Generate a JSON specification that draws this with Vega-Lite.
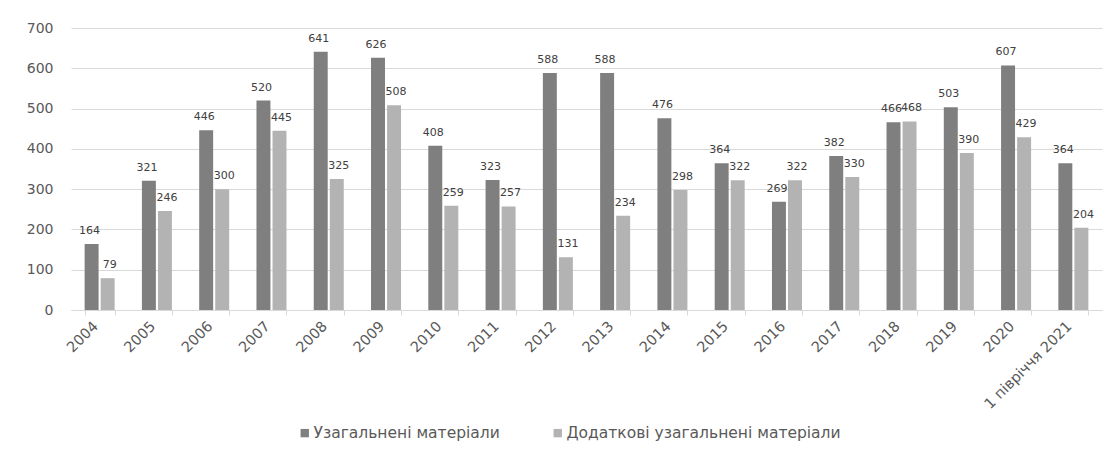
{
  "$schema": "https://vega.github.io/schema/vega-lite/v6.json",
  "width": 1031,
  "height": 282,
  "autosize": {"type": "none"},
  "padding": {"left": 71, "top": 28, "right": 18, "bottom": 147},
  "background": "white",
  "config": {"view": {"stroke": null}, "font": "DejaVu Sans"},
  "data": {
    "values": [
      {"year": "2004", "series": "Узагальнені матеріали", "value": 164},
      {"year": "2004", "series": "Додаткові узагальнені матеріали", "value": 79},
      {"year": "2005", "series": "Узагальнені матеріали", "value": 321},
      {"year": "2005", "series": "Додаткові узагальнені матеріали", "value": 246},
      {"year": "2006", "series": "Узагальнені матеріали", "value": 446},
      {"year": "2006", "series": "Додаткові узагальнені матеріали", "value": 300},
      {"year": "2007", "series": "Узагальнені матеріали", "value": 520},
      {"year": "2007", "series": "Додаткові узагальнені матеріали", "value": 445},
      {"year": "2008", "series": "Узагальнені матеріали", "value": 641},
      {"year": "2008", "series": "Додаткові узагальнені матеріали", "value": 325},
      {"year": "2009", "series": "Узагальнені матеріали", "value": 626},
      {"year": "2009", "series": "Додаткові узагальнені матеріали", "value": 508},
      {"year": "2010", "series": "Узагальнені матеріали", "value": 408},
      {"year": "2010", "series": "Додаткові узагальнені матеріали", "value": 259},
      {"year": "2011", "series": "Узагальнені матеріали", "value": 323},
      {"year": "2011", "series": "Додаткові узагальнені матеріали", "value": 257},
      {"year": "2012", "series": "Узагальнені матеріали", "value": 588},
      {"year": "2012", "series": "Додаткові узагальнені матеріали", "value": 131},
      {"year": "2013", "series": "Узагальнені матеріали", "value": 588},
      {"year": "2013", "series": "Додаткові узагальнені матеріали", "value": 234},
      {"year": "2014", "series": "Узагальнені матеріали", "value": 476},
      {"year": "2014", "series": "Додаткові узагальнені матеріали", "value": 298},
      {"year": "2015", "series": "Узагальнені матеріали", "value": 364},
      {"year": "2015", "series": "Додаткові узагальнені матеріали", "value": 322},
      {"year": "2016", "series": "Узагальнені матеріали", "value": 269},
      {"year": "2016", "series": "Додаткові узагальнені матеріали", "value": 322},
      {"year": "2017", "series": "Узагальнені матеріали", "value": 382},
      {"year": "2017", "series": "Додаткові узагальнені матеріали", "value": 330},
      {"year": "2018", "series": "Узагальнені матеріали", "value": 466},
      {"year": "2018", "series": "Додаткові узагальнені матеріали", "value": 468},
      {"year": "2019", "series": "Узагальнені матеріали", "value": 503},
      {"year": "2019", "series": "Додаткові узагальнені матеріали", "value": 390},
      {"year": "2020", "series": "Узагальнені матеріали", "value": 607},
      {"year": "2020", "series": "Додаткові узагальнені матеріали", "value": 429},
      {"year": "1 півріччя 2021", "series": "Узагальнені матеріали", "value": 364},
      {"year": "1 півріччя 2021", "series": "Додаткові узагальнені матеріали", "value": 204}
    ]
  },
  "encoding": {
    "x": {
      "field": "year",
      "type": "nominal",
      "sort": null,
      "title": null,
      "scale": {"paddingInner": 0.476, "paddingOuter": 0.238},
      "axis": {
        "labelAngle": -45,
        "labelFontSize": 14.5,
        "labelColor": "#595959",
        "domainColor": "#d9d9d9",
        "tickColor": "#d9d9d9",
        "tickBand": "extent",
        "tickSize": 5,
        "labelPadding": 4,
        "labelOffset": -9,
        "grid": false
      }
    },
    "xOffset": {
      "field": "series",
      "sort": ["Узагальнені матеріали", "Додаткові узагальнені матеріали"],
      "scale": {"paddingInner": 0.13}
    },
    "y": {
      "field": "value",
      "type": "quantitative",
      "title": null,
      "scale": {"domain": [0, 700], "nice": false},
      "axis": {
        "values": [0, 100, 200, 300, 400, 500, 600, 700],
        "domain": false,
        "ticks": false,
        "gridColor": "#d9d9d9",
        "labelFontSize": 14,
        "labelColor": "#595959",
        "labelPadding": 18
      }
    }
  },
  "layer": [
    {
      "mark": {"type": "bar"},
      "encoding": {
        "color": {
          "field": "series",
          "type": "nominal",
          "sort": ["Узагальнені матеріали", "Додаткові узагальнені матеріали"],
          "scale": {"range": ["#7f7f7f", "#b3b3b3"]},
          "legend": {
            "title": null,
            "orient": "none",
            "direction": "horizontal",
            "legendX": 226,
            "legendY": 397,
            "symbolType": "square",
            "symbolSize": 70,
            "symbolStrokeWidth": 0,
            "labelFontSize": 15.5,
            "labelColor": "#595959",
            "labelOffset": 1,
            "labelLimit": 500,
            "columnPadding": 50
          }
        }
      }
    },
    {
      "transform": [{"filter": "datum.series === 'Узагальнені матеріали'"}],
      "mark": {"type": "text", "baseline": "alphabetic", "dy": -10, "dx": -2, "fontSize": 11, "color": "#404040"},
      "encoding": {"text": {"field": "value", "type": "quantitative"}}
    },
    {
      "transform": [{"filter": "datum.series === 'Додаткові узагальнені матеріали'"}],
      "mark": {"type": "text", "baseline": "alphabetic", "dy": -10, "dx": 2, "fontSize": 11, "color": "#404040"},
      "encoding": {"text": {"field": "value", "type": "quantitative"}}
    }
  ]
}
